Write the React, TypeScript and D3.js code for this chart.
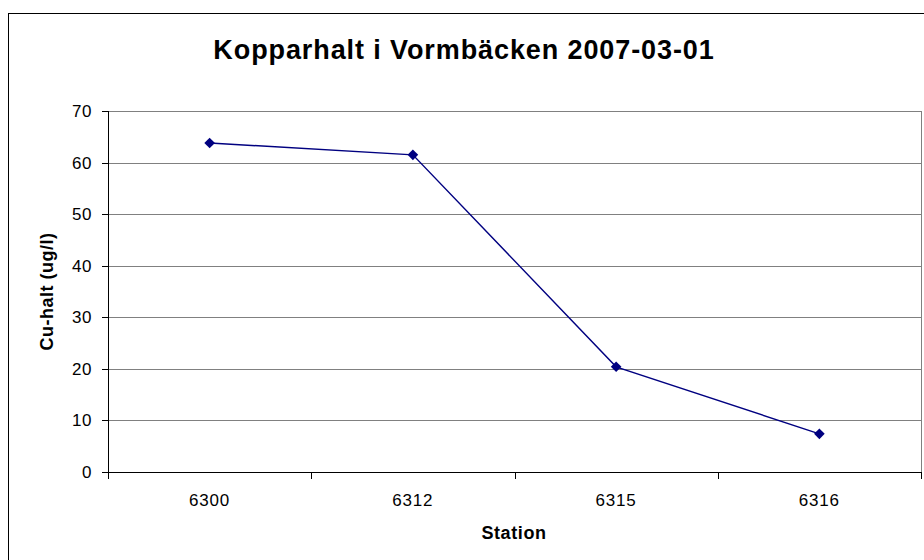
import React from "react";
import * as d3 from "d3";

const categories = ["6300", "6312", "6315", "6316"];
const values = [63.8, 61.5, 20.4, 7.4];
const yTicks = [0, 10, 20, 30, 40, 50, 60, 70];
const title = "Kopparhalt i Vormbäcken 2007-03-01";
const xTitle = "Station";
const yTitle = "Cu-halt (ug/l)";

const W = 924, H = 560;
const plot = { left: 108, top: 111, right: 921, bottom: 472 };
const FONT = "'Liberation Sans', Arial, sans-serif";

export default function App() {
  const x = d3.scaleBand<string>().domain(categories).range([plot.left, plot.right]).padding(0);
  const y = d3.scaleLinear().domain([0, 70]).range([plot.bottom, plot.top]);
  const line = d3.line<number>()
    .x((_, i) => (x(categories[i]) as number) + x.bandwidth() / 2)
    .y((d) => y(d));
  const diamond = d3.symbol().type(d3.symbolDiamond2).size(72)() as string;
  const boundaries = d3.range(categories.length + 1).map((i) => plot.left + i * x.bandwidth());

  return (
    <svg width={W} height={H} style={{ position: "absolute", left: 0, top: 0, background: "#fff" }} fontFamily={FONT}>
      <rect x={0} y={0} width={W} height={H} fill="#fff" />
      <rect x={8.5} y={13.5} width={1000} height={1000} fill="none" stroke="#000" strokeWidth={1} />
      <text x={464} y={59} textAnchor="middle" fontSize={27} fontWeight="bold" letterSpacing={0.9}>{title}</text>
      {yTicks.map((t) => (
        <line key={"g" + t} x1={plot.left} x2={plot.right} y1={Math.round(y(t)) + 0.5} y2={Math.round(y(t)) + 0.5} stroke="#808080" strokeWidth={1} />
      ))}
      <line x1={plot.right + 0.5} x2={plot.right + 0.5} y1={plot.top} y2={plot.bottom} stroke="#808080" strokeWidth={1} />
      <line x1={plot.left + 0.5} x2={plot.left + 0.5} y1={plot.top} y2={plot.bottom + 6} stroke="#000" strokeWidth={1} />
      {yTicks.map((t) => (
        <g key={"yt" + t}>
          <line x1={plot.left - 6} x2={plot.left} y1={Math.round(y(t)) + 0.5} y2={Math.round(y(t)) + 0.5} stroke="#000" />
          <text x={92} y={y(t)} dy="0.35em" textAnchor="end" fontSize={17} letterSpacing={0.5}>{t}</text>
        </g>
      ))}
      <line x1={plot.left} x2={plot.right + 1} y1={plot.bottom + 0.5} y2={plot.bottom + 0.5} stroke="#000" strokeWidth={1} />
      {boundaries.map((b, i) => (
        <line key={"xt" + i} x1={Math.round(b) + 0.5} x2={Math.round(b) + 0.5} y1={plot.bottom} y2={plot.bottom + 7} stroke="#000" />
      ))}
      {categories.map((c) => (
        <text key={"xl" + c} x={(x(c) as number) + x.bandwidth() / 2} y={500} dy="0.35em" textAnchor="middle" fontSize={17} letterSpacing={0.8}>{c}</text>
      ))}
      <text x={514} y={533} dy="0.35em" textAnchor="middle" fontSize={18} fontWeight="bold" letterSpacing={0.6}>{xTitle}</text>
      <text transform={`translate(47,${(plot.top + plot.bottom) / 2}) rotate(-90)`} dy="0.35em" textAnchor="middle" fontSize={18} fontWeight="bold" letterSpacing={0.5}>{yTitle}</text>
      <path d={line(values) as string} fill="none" stroke="#000080" strokeWidth={1.4} />
      {values.map((v, i) => (
        <path key={"m" + i} d={diamond} transform={`translate(${(x(categories[i]) as number) + x.bandwidth() / 2},${y(v)})`} fill="#000080" />
      ))}
    </svg>
  );
}
